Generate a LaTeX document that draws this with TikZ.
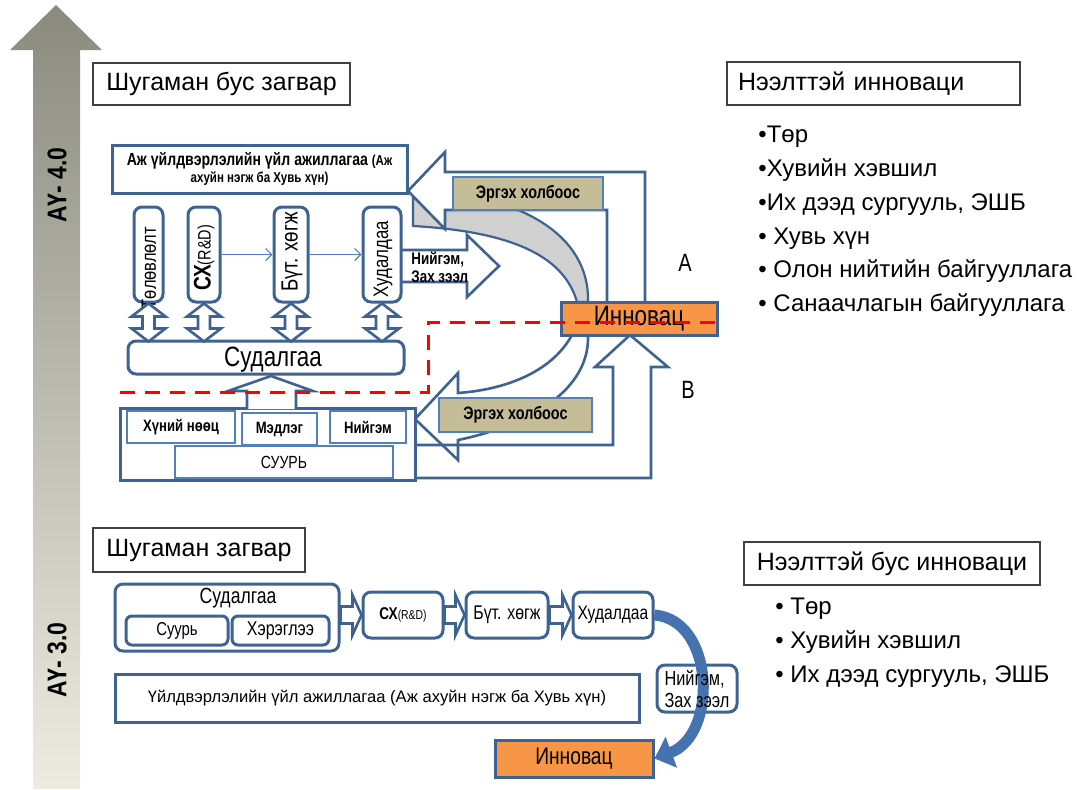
\documentclass[tikz,border=0pt]{standalone}
\usepackage{fontspec}
\setmainfont{Liberation Sans}
\newfontfamily\condbf{Liberation Sans}[FakeStretch=0.85]
\newfontfamily\narrowf{Liberation Sans}[FakeStretch=0.8]
\usepackage{tikz}
\usetikzlibrary{arrows.meta,positioning,calc}
\definecolor{bord}{RGB}{62,98,145}
\definecolor{thinb}{RGB}{79,129,189}
\definecolor{fbtan}{RGB}{196,189,151}
\definecolor{innov}{RGB}{247,150,70}
\definecolor{bandgray}{RGB}{208,208,208}
\definecolor{flowb}{RGB}{70,115,175}
\definecolor{axtop}{RGB}{138,138,126}
\definecolor{axbot}{RGB}{238,236,224}
\newcommand{\fsz}[1]{\fontsize{#1}{#1}\selectfont}
\newcommand{\nfs}[1]{\narrowf\fontsize{#1}{#1}\selectfont}

\begin{document}
\begin{tikzpicture}[x=0.5pt,y=-0.5pt,
  ttl/.style={draw=black!75,line width=0.6pt,inner sep=0pt,font=\fsz{12.5}},
  box/.style={draw=bord,line width=1.5pt,fill=white,inner sep=0pt},
  rbox/.style={box,rounded corners=4pt},
  inbox/.style={draw=thinb,line width=0.7pt,fill=white,inner sep=0pt},
  fbk/.style={inbox,fill=fbtan,font=\bfseries\nfs{9}},
  inn/.style={box,fill=innov},
  blk/.style={draw=bord,line width=1.3pt,fill=white,line join=miter},
  outl/.style={draw=bord,line width=1.3pt},
  lnk/.style={draw=thinb,line width=0.6pt,-{Straight Barb[length=3pt,width=6pt]}},
  flow/.style={draw=flowb,line width=5.5pt,-{Triangle[length=9pt,width=16pt]}},
  vtxt/.style={rotate=90,inner sep=0pt}]
\useasboundingbox (0,0) rectangle (1086,789);

% --- industry-generation axis ---
\shade[top color=axtop,bottom color=axbot]
  (33,789) -- (33,50) -- (10,50) -- (56,5) -- (102,50) -- (80,50) -- (80,789) -- cycle;
\node[vtxt,font=\condbf\bfseries\fsz{13.5}] (ax4) at (57,185) {АҮ- 4.0};
\node[vtxt,font=\condbf\bfseries\fsz{13.5}] (ax3) at (57,660) {АҮ- 3.0};

% --- headings and actor lists ---
\node[ttl,minimum width=128.5pt,minimum height=21pt] (nonlin) at (221.5,84) {Шугаман бус загвар};
\node[ttl,minimum width=146.5pt,minimum height=21.5pt,text width=135.5pt,inner xsep=5.5pt,align=left]
  (open) at (873.5,83.5) {Нээлттэй инноваци};
\node[ttl,minimum width=106pt,minimum height=22pt] (lin) at (199,550) {Шугаман загвар};
\node[ttl,minimum width=148pt,minimum height=21.5pt] (closed) at (892,563.5) {Нээлттэй бус инноваци};
\node[anchor=west,align=left,inner sep=0pt,font=\fontsize{12}{16.9}\selectfont] (openl) at (758,221.5)
  {•Төр\\•Хувийн хэвшил\\•Их дээд сургууль, ЭШБ\\• Хувь хүн\\• Олон нийтийн байгууллага\\• Санаачлагын байгууллага};
\node[anchor=west,align=left,inner sep=0pt,font=\fontsize{12}{16.9}\selectfont] (closedl) at (775,643)
  {• Төр\\• Хувийн хэвшил\\• Их дээд сургууль, ЭШБ};

% --- non-linear model: feedback A (gray band under the white bent arrow) ---
\filldraw[fill=bandgray,draw=bord,line width=1.1pt]
  (413,190) .. controls (520,193) and (590,235) .. (588,302) -- (577,302)
  .. controls (565,260) and (520,232) .. (413,226) -- cycle;
\filldraw[blk] (645,302) -- (645,172) -- (445,172) -- (445,152) -- (408,191)
  -- (445,229) -- (445,210) -- (607,210) -- (607,302);
\node[fbk,minimum width=75pt,minimum height=16.5pt] (fbA) at (528,193.5) {Эргэх холбоос};

% market arrow out of the trade box
\filldraw[blk] (402,250) -- (467,250) -- (467,235) -- (499,266) -- (467,297) -- (467,282) -- (402,282);
\node[anchor=west,align=left,inner sep=0pt,font=\bfseries\narrowf\fontsize{8.4}{9}\selectfont] (mktT) at (411,267)
  {Нийгэм,\\Зах зээл};

% production box and the four stages
\node[box,minimum width=147.5pt,minimum height=24pt,align=center,font=\bfseries\narrowf\fontsize{8.8}{8.5}\selectfont]
  (prod) at (259.5,169)
  {Аж үйлдвэрлэлийн үйл ажиллагаа {\fontsize{7.2}{8.5}\selectfont(Аж}\\{\fontsize{7.2}{8.5}\selectfont ахуйн нэгж ба Хувь хүн)}};
\node[rbox,minimum width=14.5pt,minimum height=47.5pt] (plan)  at (148.5,254.5) {};
\node[rbox,minimum width=16pt,minimum height=47.5pt]   (rd)    at (204,254.5) {};
\node[rbox,minimum width=17pt,minimum height=47.5pt]   (dev)   at (291,254.5) {};
\node[rbox,minimum width=19pt,minimum height=47.5pt]   (trade) at (382,254.5) {};
\node[vtxt,font=\nfs{10.3}] (planT) at (149,268) {Төлөвлөлт};
\node[vtxt] (rdT) at (204,258) {{\bfseries\nfs{12}СХ}{\nfs{9}(R\&D)}};
\node[vtxt,font=\nfs{11.7}] (devT) at (292,252) {Бүт. хөгж};
\node[vtxt,font=\nfs{10.5}] (tradeT) at (383,259) {Худалдаа};
\draw[lnk] (rd) -- (dev);
\draw[lnk] (dev) -- (trade);

% feedback B: curved band back to the base, and the bent arrow up to innovation
\draw[outl] (572,335) .. controls (550,375) and (500,390) .. (458,393) -- (458,373) -- (415,419)
  -- (458,460) -- (458,440) .. controls (530,425) and (590,390) .. (588,335);
\draw[outl] (415,445) -- (613,445) -- (613,367) -- (595,367) -- (630,335) -- (668,367)
  -- (651,367) -- (651,478) -- (415,478);
\node[fbk,minimum width=76.5pt,minimum height=17pt] (fbB) at (515.5,415) {Эргэх холбоос};

% foundation block
\node[box,minimum width=147.5pt,minimum height=36pt] (base) at (267.5,444) {};
\node[inbox,minimum width=54pt,minimum height=16pt,font=\bfseries\nfs{8.2}] (hr)   at (181,427) {Хүний нөөц};
\node[inbox,minimum width=37.5pt,minimum height=16pt,font=\bfseries\nfs{8.2}] (know) at (279.5,429) {Мэдлэг};
\node[inbox,minimum width=38pt,minimum height=16pt,font=\bfseries\nfs{8.2}]   (soc)  at (368,427) {Нийгэм};
\node[inbox,minimum width=109pt,minimum height=16pt,font=\nfs{8.8}]         (found) at (284,462) {СУУРЬ};

% research layer
\node[rbox,minimum width=138pt,minimum height=16.5pt] (res) at (266,357.5) {};
\node[font=\nfs{14},inner sep=0pt] (resT) at (273,360) {Судалгаа};
\filldraw[blk] (247,409) -- (247,391) -- (228,391) -- (271,376) -- (313,391) -- (296,391) -- (296,409);
\foreach \n in {plan,rd,dev,trade}
  \filldraw[blk] (\n.south) -- ++(17,13) -- ++(-11,0) -- ++(0,12) -- ++(11,0) -- ++(-17,13)
    -- ++(-17,-13) -- ++(11,0) -- ++(0,-12) -- ++(-11,0) -- cycle;

\node[inn,minimum width=78pt,minimum height=16.5pt,font=\nfs{14}] (inno) at (639,318.5) {Инновац};
\node[font=\nfs{12.5}] (lA) at (685,263) {A};
\node[font=\nfs{12.5}] (lB) at (688,390) {B};

\draw[red,line width=1.5pt,dash pattern=on 7.5pt off 5pt] (120,392) -- (428,392) -- (428,322) -- (717,322);

% --- linear model ---
\node[rbox,minimum width=112pt,minimum height=33.5pt] (sud) at (227,617.5) {};
\node[font=\nfs{11},inner sep=0pt] (sudT) at (238,598) {Судалгаа};
\node[rbox,rounded corners=3pt,minimum width=51pt,minimum height=14.5pt,font=\nfs{9.3}] (basic) at (177,630.5) {Суурь};
\node[rbox,rounded corners=3pt,minimum width=48.5pt,minimum height=14.5pt,font=\nfs{10}] (appl) at (280.5,630.5) {Хэрэглээ};
\node[rbox,minimum width=40pt,minimum height=23pt] (rd2) at (403,615) {{\bfseries\nfs{8.5}СХ}{\nfs{6.5}(R\&D)}};
\node[rbox,minimum width=41pt,minimum height=23pt,font=\nfs{9.9}] (dev2) at (507,615) {Бүт. хөгж};
\node[rbox,minimum width=40pt,minimum height=23pt,font=\nfs{9.75}] (trade2) at (613,615) {Худалдаа};
\foreach \a/\b in {sud/rd2,rd2/dev2,dev2/trade2}
  \filldraw[blk] (\b.west) -- ++(-9,-20) -- ++(0,11.5) -- ($(\a.east|-\b.west)+(0,-8.5)$) -- ++(0,17)
    -- ($(\b.west)+(-9,8.5)$) -- ++(0,11.5) -- cycle;
\node[box,minimum width=262pt,minimum height=24pt,font=\fsz{8.3}] (prod2) at (377,698)
  {Үйлдвэрлэлийн үйл ажиллагаа (Аж ахуйн нэгж ба Хувь хүн)};
\node[rbox,minimum width=40pt,minimum height=23.5pt] (mkt2) at (697,688.5) {};
\node[inn,minimum width=79pt,minimum height=18.5pt,font=\nfs{12}] (inno2) at (574,758.5) {Инновац};
\draw[flow] (trade2.east) .. controls (715,620) and (718,735) .. (inno2.east);
\node[align=left,inner sep=0pt,font=\narrowf\fontsize{10.2}{11}\selectfont] (mkt2T) at (697,689) {Нийгэм,\\Зах зээл};
\end{tikzpicture}
\end{document}
